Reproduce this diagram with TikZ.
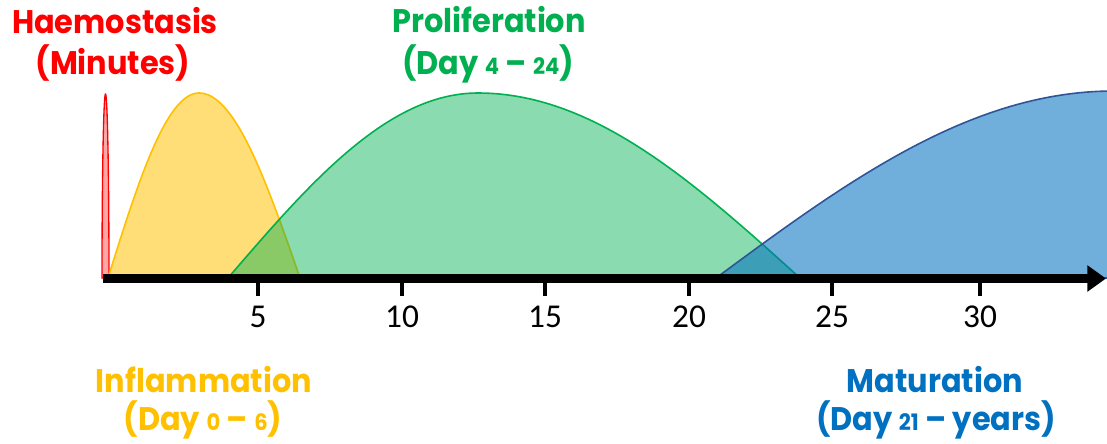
\documentclass[tikz,border=0pt]{standalone}
\usepackage{fontspec}
\usetikzlibrary{arrows.meta}
\newfontfamily\phasefont{Poppins}[FakeStretch=0.93]
\newfontfamily\tickfont{Carlito}
\definecolor{haemoCol}{RGB}{255, 0, 0}
\definecolor{inflamCol}{RGB}{255, 192, 0}
\definecolor{prolifCol}{RGB}{0, 176, 80}
\definecolor{maturCol}{RGB}{0, 112, 192}
\definecolor{maturEdge}{RGB}{47, 85, 151}

% small figures inside the day ranges
\newcommand{\daynum}[1]{{\fontsize{17}{20}\selectfont #1}}

\begin{document}
\begin{tikzpicture}[
    x=0.75pt, y=-0.75pt,
    % Phase Title Style
    phaseTitle/.style={
        anchor=base,
        inner sep=0pt,
        font=\phasefont\bfseries\fontsize{24.5}{29}\selectfont
    },
    % Tick Label Style
    tickLabel/.style={
        anchor=base,
        inner sep=0pt,
        font=\tickfont\fontsize{25}{30}\selectfont
    },
    % Time Axis Style
    axisLine/.style={
        line width=6.75pt,
        -{Triangle[length=14pt, width=19pt]}
    },
    tickLine/.style={line width=3pt},
    % Phase Curve Styles
    haemoArea/.style={draw=haemoCol, fill=haemoCol!35, line width=1pt},
    inflamArea/.style={draw=inflamCol, fill=inflamCol, fill opacity=0.53, line width=1.2pt},
    prolifArea/.style={draw=prolifCol, fill=prolifCol, fill opacity=0.46, line width=1.2pt},
    maturArea/.style={draw=maturEdge, fill=maturCol, fill opacity=0.56, line width=1.2pt}
]

    \useasboundingbox (0,0) rectangle (1107,443);

    % Baseline and peak height of the phase curves
    \def\base{278}
    \def\peakh{185}

    % Haemostasis (narrow spike at day 0)
    \path[haemoArea]
        plot[domain=0:180, samples=50] ({105.5+3.5*cos(\x)}, {\base-184*sin(\x)})
        -- cycle;

    % Inflammation (day 0 - 6)
    \path[inflamArea]
        plot[domain=108:199, samples=40] (\x, {\base-\peakh*sin((\x-108)/91*90)})
        -- plot[domain=199:300, samples=40] (\x, {\base-\peakh*sin((300-\x)/101*90)})
        -- cycle;

    % Proliferation (day 4 - 24)
    \path[prolifArea]
        plot[domain=228:478, samples=60] (\x, {\base-\peakh*sin((\x-228)/250*90)})
        -- plot[domain=478:800, samples=60] (\x, {\base-\peakh*sin((800-\x)/322*90)})
        -- cycle;

    % Maturation (day 21 - years), runs off the right edge
    \path[maturArea]
        plot[domain=716:1120, samples=60] (\x, {\base-187*sin((\x-716)/398*90)})
        -- (1120,\base) -- cycle;

    % Time axis with ticks
    \coordinate (axisStart) at (103,278.5);
    \coordinate (axisEnd) at (1106,278.5);
    \draw[axisLine] (axisStart) -- (axisEnd);

    \foreach \px/\lab in {258/5, 402/10, 545/15, 689/20, 832/25, 980/30} {
        \draw[tickLine] (\px,282) -- (\px,296);
        \node[tickLabel] (tick\lab) at (\px,327) {\lab};
    }

    % Phase labels
    \node[phaseTitle, text=haemoCol] (haemoTitle) at (115,33) {Haemostasis};
    \node[phaseTitle, text=haemoCol] (haemoRange) at (113,74) {(Minutes)};

    \node[phaseTitle, text=prolifCol] (prolifTitle) at (489,32) {Proliferation};
    \node[phaseTitle, text=prolifCol] (prolifRange) at (488,74) {(Day \daynum{4} \textendash{} \daynum{24})};

    \node[phaseTitle, text=inflamCol] (inflamTitle) at (204,392) {Inflammation};
    \node[phaseTitle, text=inflamCol] (inflamRange) at (203,430) {(Day \daynum{0} \textendash{} \daynum{6})};

    \node[phaseTitle, text=maturCol] (maturTitle) at (935,392) {Maturation};
    \node[phaseTitle, text=maturCol] (maturRange) at (936,430) {(Day \daynum{21} \textendash{} years)};

\end{tikzpicture}
\end{document}
